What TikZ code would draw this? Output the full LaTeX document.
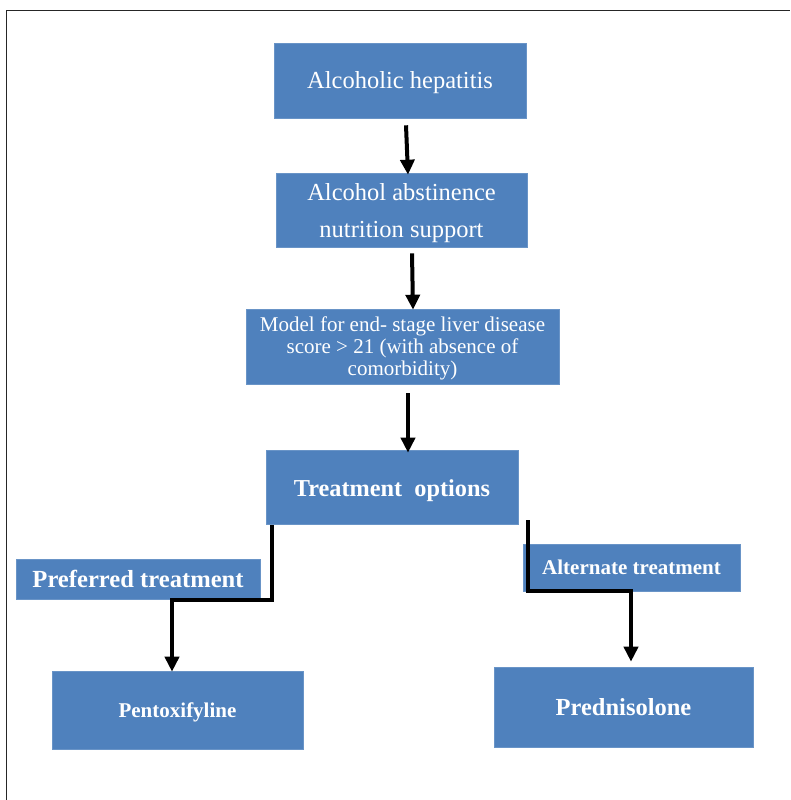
\documentclass[tikz,border=0pt]{standalone}
\usepackage{fontspec}
\setmainfont{Liberation Serif}
\usetikzlibrary{arrows.meta}
\definecolor{boxblue}{HTML}{4F81BD}
\newcommand{\up}[1]{\rule{0pt}{#1pt}}
\begin{document}
\begin{tikzpicture}[x=1pt,y=-1pt,
  box/.style={fill=boxblue,draw=boxblue!85!white,line width=0.6pt,text=white,inner sep=0pt,align=center},
  arr/.style={line width=4pt,-{Triangle[length=15pt,width=14pt]},miter limit=10}]
\useasboundingbox (0,0) rectangle (790,800);
\draw[line width=1pt,black!85] (6,800) -- (6,11) -- (790,11);
% boxes
\node[box,minimum width=252pt,minimum height=75pt,font=\fontsize{24.5}{30}\selectfont] (a) at (400,80.5) {\up{21}Alcoholic hepatitis};
\node[box,minimum width=251pt,minimum height=74pt,font=\fontsize{24.5}{37}\selectfont] (b) at (401.5,210) {\up{23}Alcohol abstinence\\nutrition support};
\node[box,minimum width=313pt,minimum height=75pt,font=\fontsize{21}{22}\selectfont] (c) at (402.5,346.5) {\up{19}Model for end- stage liver disease\\score > 21 (with absence of\\comorbidity)};
\node[box,minimum width=252pt,minimum height=74pt,font=\fontsize{24.3}{30}\selectfont\bfseries] (t) at (392,487) {\up{24.5}Treatment\ \ options};
\node[box,minimum width=244pt,minimum height=40pt,font=\fontsize{24.6}{30}\selectfont\bfseries] (pref) at (138,579) {Preferred treatment};
\node[box,minimum width=251pt,minimum height=78pt,font=\fontsize{21}{26}\selectfont\bfseries] (pent) at (177.5,710) {\up{20.5}Pentoxifyline};
\node[box,minimum width=217pt,minimum height=47pt,font=\fontsize{21}{26}\selectfont\bfseries] (alt) at (631.5,567.5) {Alternate treatment};
\node[box,minimum width=259pt,minimum height=80pt,font=\fontsize{24.5}{30}\selectfont\bfseries] (pred) at (623.5,707) {Prednisolone};
% connectors
\draw[arr] ([xshift=6pt,yshift=-7pt]a.south) -- ([xshift=6.5pt,yshift=-2pt]b.north);
\draw[arr] ([xshift=10.5pt,yshift=-6pt]b.south) -- ([xshift=10.5pt,yshift=-1pt]c.north);
\draw[arr] ([xshift=5.5pt,yshift=-9pt]c.south) -- ([xshift=16pt,yshift=-3pt]t.north);
\coordinate (lk) at (172,600);
\coordinate (rk) at (631,591);
\draw[arr] ([xshift=6pt,yshift=-1pt]t.south west) |- (lk) -- ([xshift=-5.5pt,yshift=-1pt]pent.north);
\draw[arr] ([xshift=10pt,yshift=4pt]t.south east) |- (rk) -- ([xshift=7.5pt,yshift=5pt]pred.north);
\end{tikzpicture}
\end{document}
